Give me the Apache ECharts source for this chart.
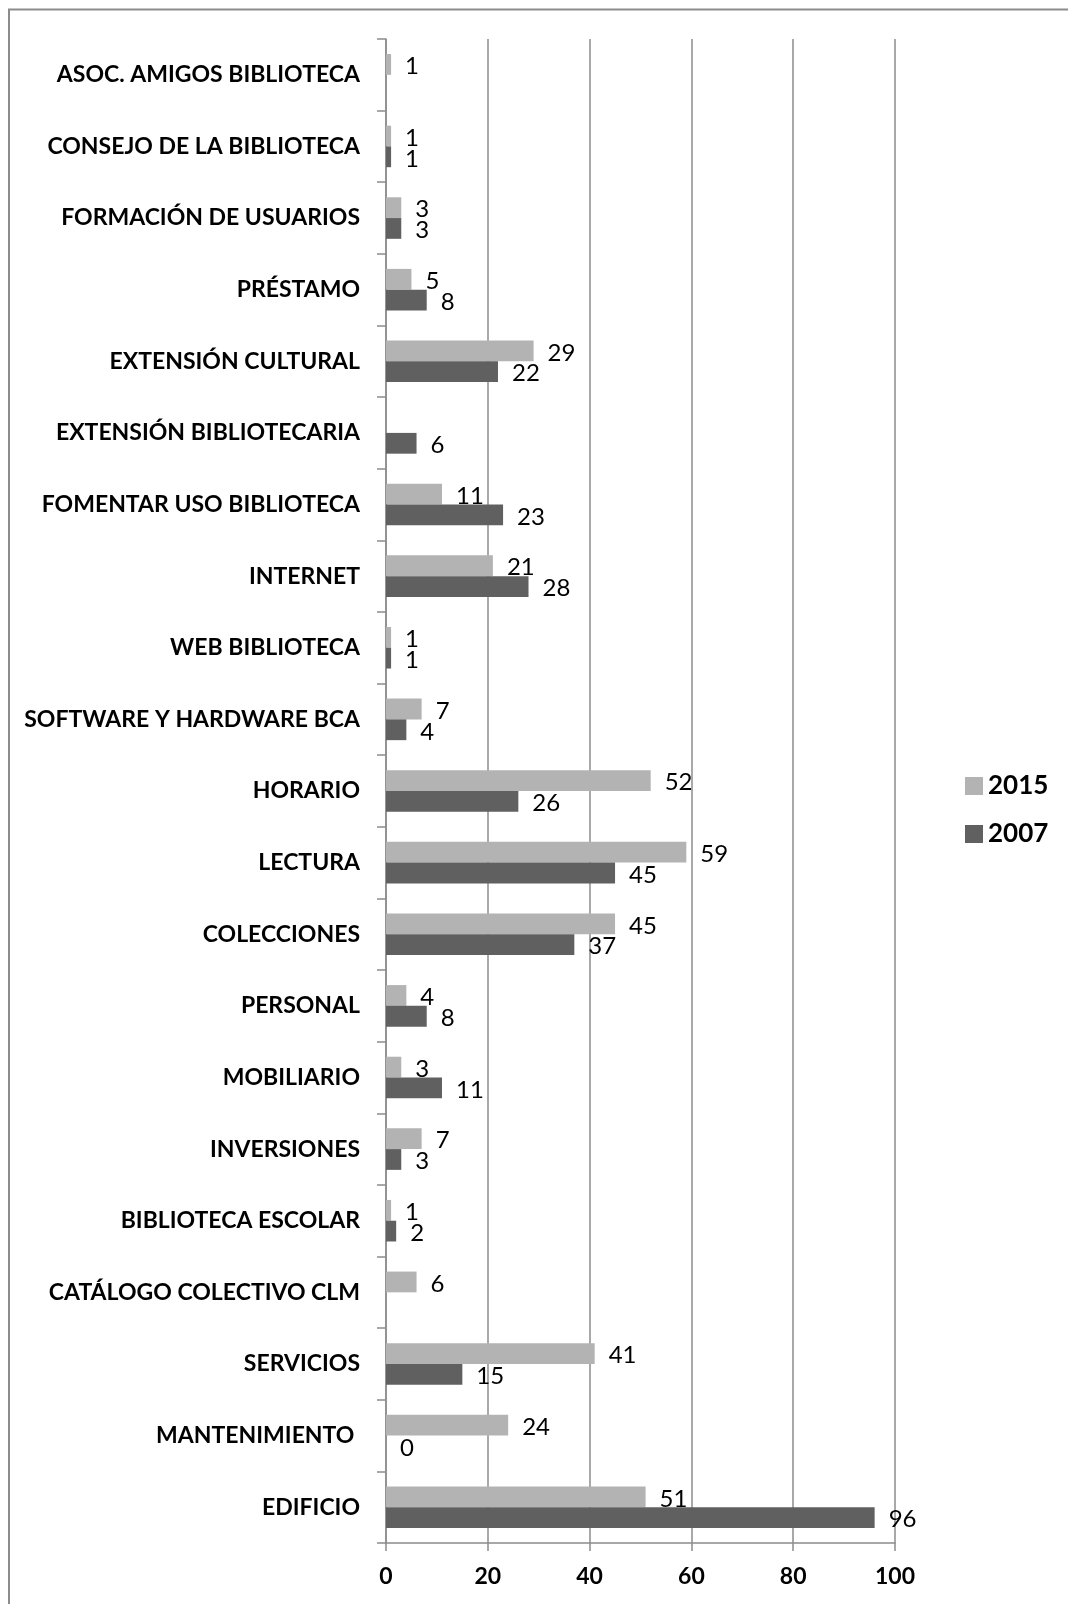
<!DOCTYPE html>
<html>
<head>
<meta charset="utf-8">
<script src="https://cdn.jsdelivr.net/npm/echarts@6/dist/echarts.min.js"></script>
<style>
html,body{margin:0;padding:0;background:#fff;}
#chart{width:1068px;height:1604px;}
</style>
</head>
<body>
<div id="chart"></div>
<script>
// Categories from bottom to top
var categories = [
  'EDIFICIO', 'MANTENIMIENTO ', 'SERVICIOS', 'CATÁLOGO COLECTIVO CLM',
  'BIBLIOTECA ESCOLAR', 'INVERSIONES', 'MOBILIARIO', 'PERSONAL',
  'COLECCIONES', 'LECTURA', 'HORARIO', 'SOFTWARE Y HARDWARE BCA',
  'WEB BIBLIOTECA', 'INTERNET', 'FOMENTAR USO BIBLIOTECA',
  'EXTENSIÓN BIBLIOTECARIA', 'EXTENSIÓN CULTURAL', 'PRÉSTAMO',
  'FORMACIÓN DE USUARIOS', 'CONSEJO DE LA BIBLIOTECA', 'ASOC. AMIGOS BIBLIOTECA'
];
var values2015 = [51, 24, 41, 6, 1, 7, 3, 4, 45, 59, 52, 7, 1, 21, 11, '-', 29, 5, 3, 1, 1];
var values2007 = [96, 0, 15, '-', 2, 3, 11, 8, 37, 45, 26, 4, 1, 28, 23, 6, 22, 8, 3, 1, '-'];
var seriesNames = ['2015', '2007'];
var xTicks = [0, 20, 40, 60, 80, 100];

var chart = echarts.init(document.getElementById('chart'), null, {renderer: 'canvas'});
var axisGray = '#8c8c8c';
var labelStyle = {
  show: true, position: 'right', distance: 14,
  fontFamily: 'Lato', fontSize: 24, color: '#000', offset: [0, 2]
};
chart.setOption({
  animation: false,
  backgroundColor: '#fff',
  graphic: [
    {type: 'line', shape: {x1: 8, y1: 9.5, x2: 1068, y2: 9.5}, style: {stroke: axisGray, lineWidth: 2}},
    {type: 'line', shape: {x1: 9, y1: 9, x2: 9, y2: 1604}, style: {stroke: axisGray, lineWidth: 2}}
  ],
  legend: {
    orient: 'vertical',
    left: 960, top: 768,
    itemWidth: 18, itemHeight: 18,
    itemGap: 22,
    icon: 'rect',
    data: seriesNames,
    textStyle: {fontFamily: 'Lato', fontWeight: 'bold', fontSize: 26, color: '#000'}
  },
  grid: {left: 386, right: 173, top: 39, bottom: 61, containLabel: false},
  xAxis: {
    type: 'value', min: 0, max: 100, interval: 20,
    axisLine: {show: true, lineStyle: {color: axisGray, width: 1.5}},
    axisTick: {show: true, length: 8, lineStyle: {color: axisGray, width: 1.5}},
    splitLine: {show: true, lineStyle: {color: axisGray, width: 1.5}},
    axisLabel: {
      fontFamily: 'Lato', fontWeight: 'bold', fontSize: 23, color: '#000', margin: 22,
      formatter: function (v) { return xTicks.indexOf(v) >= 0 ? String(v) : ''; }
    }
  },
  yAxis: {
    type: 'category', data: categories,
    axisLine: {show: true, lineStyle: {color: axisGray, width: 1.5}},
    axisTick: {show: true, length: 9, lineStyle: {color: axisGray, width: 1.5}},
    axisLabel: {fontFamily: 'Lato', fontWeight: 'bold', fontSize: 23, color: '#000', margin: 26}
  },
  series: [
    {
      name: seriesNames[0], type: 'bar', data: values2015,
      barGap: '0%', barCategoryGap: '42%',
      itemStyle: {color: '#b3b3b3'},
      label: labelStyle
    },
    {
      name: seriesNames[1], type: 'bar', data: values2007,
      barGap: '0%', barCategoryGap: '42%',
      itemStyle: {color: '#606060'},
      label: labelStyle
    }
  ]
});
</script>
</body>
</html>
